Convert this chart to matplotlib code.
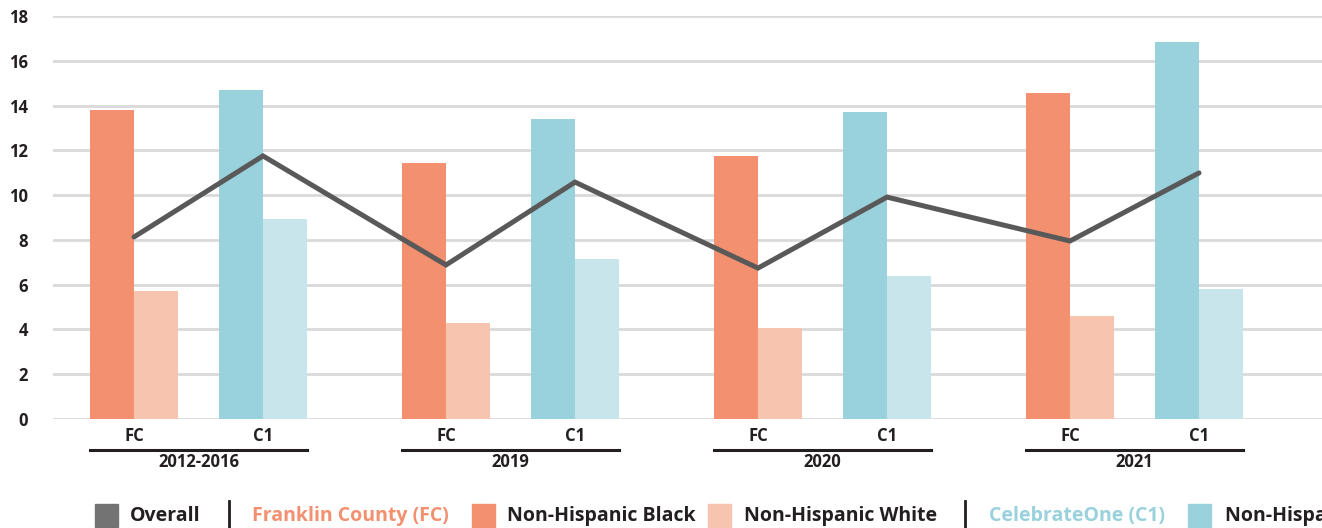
import matplotlib
matplotlib.use("Agg")
import matplotlib.pyplot as plt
from matplotlib.patches import Rectangle
from matplotlib.lines import Line2D
import numpy as np

plt.rcParams['font.family'] = ['Open Sans', 'DejaVu Sans']

# ---- data ----
periods = ["2012-2016", "2019", "2020", "2021"]
sub_labels = ["FC", "C1"]
fc_black = [13.8, 11.43, 11.75, 14.56]
fc_white = [5.72, 4.29, 4.06, 4.6]
c1_black = [14.69, 13.4, 13.71, 16.84]
c1_white = [8.93, 7.15, 6.39, 5.8]
overall_fc = [8.13, 6.88, 6.74, 7.95]
overall_c1 = [11.75, 10.58, 9.91, 10.99]
yticks = [0, 2, 4, 6, 8, 10, 12, 14, 16, 18]

# ---- style ----
C_FC_DARK = "#f2906f"
C_FC_LIGHT = "#f7c4af"
C_C1_DARK = "#99d1dc"
C_C1_LIGHT = "#c8e5eb"
C_LINE = "#595959"
C_OVERALL = "#737373"
C_TEXT = "#231f20"

W, H = 1322, 528
fig = plt.figure(figsize=(W / 100, H / 100), dpi=100)
ax = fig.add_axes([53 / W, (H - 419) / H, (W - 53) / W, (419 - 16) / H])

g = np.arange(len(periods))
off_c1 = 129 / 312
bw = 44 / 312

ax.bar(g - bw / 2, fc_black, bw, color=C_FC_DARK, zorder=2)
ax.bar(g + bw / 2, fc_white, bw, color=C_FC_LIGHT, zorder=2)
ax.bar(g + off_c1 - bw / 2, c1_black, bw, color=C_C1_DARK, zorder=2)
ax.bar(g + off_c1 + bw / 2, c1_white, bw, color=C_C1_LIGHT, zorder=2)

lx, ly = [], []
for i in range(len(periods)):
    lx += [g[i], g[i] + off_c1]
    ly += [overall_fc[i], overall_c1[i]]
ax.plot(lx, ly, color=C_LINE, lw=3.6, zorder=3, solid_capstyle='round', solid_joinstyle='miter')

ax.set_xlim((53 - 134) / 312, (1322 - 134) / 312)
ax.set_ylim(0, 18)
ax.set_yticks(yticks)
ax.set_yticklabels([str(v) for v in yticks], fontsize=12, fontweight='bold', color=C_TEXT)
ax.tick_params(axis='y', length=0, pad=18)
for lab in ax.get_yticklabels():
    lab.set_horizontalalignment('right')
ax.yaxis.grid(True, color="#d9d9d9", lw=2, zorder=0)
ax.set_axisbelow(True)
for s in ax.spines.values():
    s.set_visible(False)

xt = []
xl = []
for i in range(len(periods)):
    xt += [g[i], g[i] + off_c1]
    xl += sub_labels
ax.set_xticks(xt)
ax.set_xticklabels(xl, fontsize=12, fontweight='bold', color=C_TEXT)
ax.tick_params(axis='x', length=0, pad=6)

# group underlines and labels
trans = ax.get_xaxis_transform()
for i, p in enumerate(periods):
    x0 = g[i] - bw
    x1 = g[i] + off_c1 + bw
    ax.add_line(Line2D([x0, x1], [-(450 - 419) / 403] * 2, transform=trans,
                       color=C_TEXT, lw=2.2, clip_on=False))
    ax.text((x0 + x1) / 2, -(462 - 419) / 403, p, transform=trans, ha='center', va='center',
            fontsize=12, fontweight='bold', color=C_TEXT)

# legend (pixel layout)
def px(x, y):
    return x / W, (H - y) / H

ly_c = 516
fs = 14
def square(x, color):
    x0, y0 = px(x, ly_c + 11)
    fig.patches.append(Rectangle((x0, y0), 23 / W, 23 / H, transform=fig.transFigure,
                                 color=color, clip_on=False))

def label(x, s, color=C_TEXT):
    fig.text(*px(x, ly_c), s, ha='left', va='center', fontsize=fs, fontweight='bold', color=color)

def sep(x):
    fig.add_artist(Line2D([x / W, x / W], [(H - 501) / H, (H - 528) / H],
                          transform=fig.transFigure, color=C_TEXT, lw=2))

square(95, C_OVERALL); label(130, "Overall")
sep(229)
label(252, "Franklin County (FC)", C_FC_DARK)
square(472, C_FC_DARK); label(507, "Non-Hispanic Black")
square(708, C_FC_LIGHT); label(744, "Non-Hispanic White")
sep(965)
label(989, "CelebrateOne (C1)", C_C1_DARK)
square(1188, C_C1_DARK); label(1225, "Non-Hispanic Black")
square(1424, C_C1_LIGHT); label(1460, "Non-Hispanic White")

fig.savefig("out.png", dpi=100)
